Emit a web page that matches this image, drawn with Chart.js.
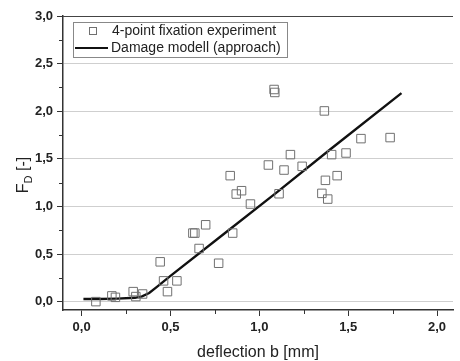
<!DOCTYPE html>
<html>
<head>
<meta charset="utf-8">
<script src="https://cdn.jsdelivr.net/npm/chart.js@4.4.0/dist/chart.umd.min.js"></script>
<style>
  html, body { margin: 0; padding: 0; background: #fff; overflow: hidden; }
</style>
</head>
<body>
<canvas id="chart" width="460" height="361"></canvas>
<script>
// experiment points (deflection b [mm], F_D [-])
const expX = [0.08, 0.17, 0.19, 0.29, 0.305, 0.343, 0.442, 0.461, 0.483, 0.536,
              0.626, 0.637, 0.661, 0.698, 0.771, 0.836, 0.85, 0.87, 0.9, 0.95,
              1.051, 1.083, 1.087, 1.111, 1.139, 1.175, 1.241, 1.352, 1.366, 1.372,
              1.385, 1.407, 1.438, 1.488, 1.572, 1.736];
const expY = [0.0, 0.06, 0.045, 0.105, 0.053, 0.08, 0.418, 0.218, 0.105, 0.218,
              0.72, 0.72, 0.558, 0.807, 0.403, 1.323, 0.72, 1.13, 1.165, 1.025,
              1.435, 2.228, 2.197, 1.133, 1.382, 1.544, 1.421, 1.137, 2.003, 1.274,
              1.077, 1.544, 1.323, 1.561, 1.712, 1.723];

// damage model curve
const modelX = [0.01, 0.1, 0.2, 0.3, 0.34, 0.38, 0.42, 0.5, 0.8, 1.1, 1.4, 1.8];
const modelY = [0.028, 0.028, 0.032, 0.04, 0.055, 0.09, 0.15, 0.27, 0.71, 1.15, 1.6, 2.19];

const xMajor = [0, 0.5, 1.0, 1.5, 2.0];
const xMinor = [0.25, 0.75, 1.25, 1.75];
const yMajor = [0, 0.5, 1.0, 1.5, 2.0, 2.5, 3.0];
const yMinor = [0.25, 0.75, 1.25, 1.75, 2.25, 2.75];

const FONT = '"Liberation Sans", Arial, sans-serif';
const fmt = v => v.toFixed(1).replace('.', ',');

const extras = {
  id: 'extras',
  afterDraw(chart) {
    const ctx = chart.ctx;
    const a = chart.chartArea;
    const xs = chart.scales.x, ys = chart.scales.y;
    ctx.save();

    // top frame line
    ctx.strokeStyle = '#444';
    ctx.lineWidth = 1;
    ctx.beginPath();
    ctx.moveTo(a.left, a.top + 0.5);
    ctx.lineTo(a.right, a.top + 0.5);
    ctx.stroke();

    // minor ticks
    ctx.strokeStyle = '#333';
    ctx.beginPath();
    xMinor.forEach(v => {
      const px = Math.round(xs.getPixelForValue(v)) + 0.5;
      ctx.moveTo(px, a.bottom);
      ctx.lineTo(px, a.bottom + 4);
    });
    yMinor.forEach(v => {
      const py = Math.round(ys.getPixelForValue(v)) + 0.5;
      ctx.moveTo(a.left, py);
      ctx.lineTo(a.left - 4, py);
    });
    ctx.stroke();

    // y title with subscript
    ctx.translate(24, 175);
    ctx.rotate(-Math.PI / 2);
    ctx.fillStyle = '#222';
    ctx.textBaseline = 'middle';
    ctx.font = '16px ' + FONT;
    const wF = ctx.measureText('F').width;
    const wRest = ctx.measureText(' [-]').width;
    ctx.font = '11px ' + FONT;
    const wD = ctx.measureText('D').width;
    let x0 = -(wF + wD + wRest) / 2;
    ctx.font = '16px ' + FONT;
    ctx.fillText('F', x0, 0);
    ctx.font = '11px ' + FONT;
    ctx.fillText('D', x0 + wF, 5);
    ctx.font = '16px ' + FONT;
    ctx.fillText(' [-]', x0 + wF + wD, 0);
    ctx.restore();

    // legend
    ctx.save();
    const ds = chart.data.datasets;
    ctx.fillStyle = '#fff';
    ctx.fillRect(73, 22, 214, 35);
    ctx.strokeStyle = '#888';
    ctx.lineWidth = 1;
    ctx.strokeRect(73.5, 22.5, 214, 35);
    ctx.strokeStyle = ds[0].borderColor;
    ctx.strokeRect(89.5, 27.5, 7, 7);
    ctx.strokeStyle = ds[1].borderColor;
    ctx.lineWidth = 2.2;
    ctx.beginPath();
    ctx.moveTo(75, 48);
    ctx.lineTo(108, 48);
    ctx.stroke();
    ctx.fillStyle = '#222';
    ctx.font = '14px ' + FONT;
    ctx.textBaseline = 'middle';
    ctx.fillText(ds[0].label, 112, 31);
    ctx.fillText(ds[1].label, 111, 48);
    ctx.restore();
  }
};

new Chart(document.getElementById('chart'), {
  type: 'scatter',
  data: {
    datasets: [{
      label: '4-point fixation experiment',
      data: expX.map((x, i) => ({ x: x, y: expY[i] })),
      pointStyle: 'rect',
      pointRadius: 6,
      borderColor: '#707070',
      backgroundColor: 'rgba(0,0,0,0)',
      borderWidth: 1
    }, {
      label: 'Damage modell (approach)',
      data: modelX.map((x, i) => ({ x: x, y: modelY[i] })),
      showLine: true,
      pointRadius: 0,
      borderColor: '#111',
      borderWidth: 2.4,
      tension: 0
    }]
  },
  options: {
    responsive: false,
    animation: false,
    layout: { padding: { top: 16, left: 0, right: 0, bottom: 0 } },
    plugins: { legend: { display: false }, tooltip: { enabled: false } },
    scales: {
      x: {
        type: 'linear',
        min: -0.105,
        max: 2.09,
        afterBuildTicks: s => { s.ticks = xMajor.map(v => ({ value: v })); },
        afterFit: s => { s.height = 51; },
        ticks: {
          callback: v => fmt(v),
          font: { family: FONT, size: 13, weight: 'bold' },
          color: '#222',
          padding: 4,
          maxRotation: 0,
          autoSkip: false
        },
        grid: { drawOnChartArea: false, tickLength: 6, tickColor: '#333' },
        border: { color: '#333', width: 1.5 },
        title: {
          display: true,
          text: 'deflection b [mm]',
          font: { family: FONT, size: 16 },
          color: '#222',
          padding: { top: 0, bottom: -1 }
        }
      },
      y: {
        min: -0.088,
        max: 3.0,
        afterBuildTicks: s => { s.ticks = yMajor.map(v => ({ value: v })); },
        afterFit: s => { s.width = 63; },
        ticks: {
          callback: v => fmt(v),
          font: { family: FONT, size: 13, weight: 'bold' },
          color: '#222',
          padding: 4
        },
        grid: { color: '#cfcfcf', tickColor: '#333', tickLength: 6 },
        border: { color: '#333', width: 1.5 }
      }
    }
  },
  plugins: [extras]
});
</script>
</body>
</html>
